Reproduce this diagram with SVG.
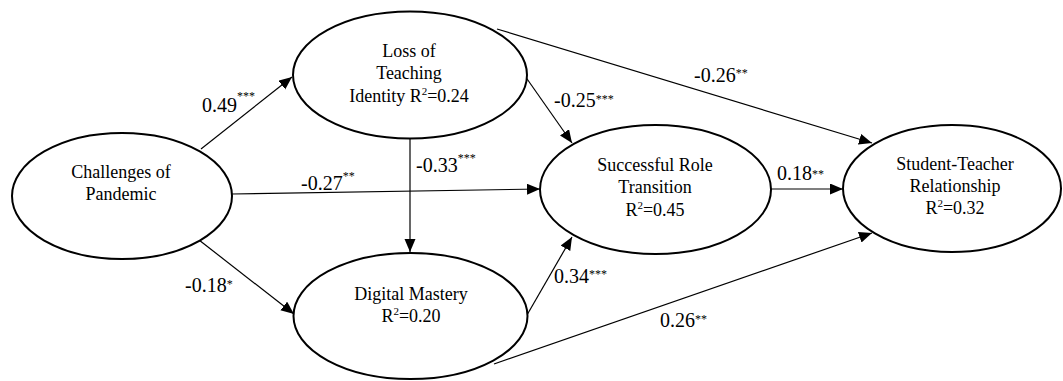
<svg xmlns="http://www.w3.org/2000/svg" width="1063" height="381" viewBox="0 0 1063 381" font-family="'Liberation Serif', 'DejaVu Serif', serif">
<defs>
<style>
.node ellipse{fill:#fff;stroke:#000;stroke-width:2}
.node text{font-family:'Liberation Serif','DejaVu Serif',serif;font-size:18px;fill:#000;text-anchor:middle}
.sup{font-size:11px}
.edge{stroke:#000;stroke-width:1.2;fill:none;marker-end:url(#arr)}
.lbl{font-family:'Liberation Serif','DejaVu Serif',serif;font-size:20px;fill:#000}
.st{font-size:12px}
</style>
<marker id="arr" markerUnits="userSpaceOnUse" markerWidth="14" markerHeight="12" refX="13" refY="5.5" orient="auto">
<path d="M0,0 L13,5.5 L0,11 z" fill="#000"/>
</marker>
</defs>
<rect width="1063" height="381" fill="#fff"/>
<g id="connectors">
<line class="edge" x1="201" y1="149" x2="292" y2="77"/>
<line class="edge" x1="232" y1="194" x2="540" y2="189"/>
<line class="edge" x1="199" y1="240" x2="294" y2="314"/>
<line class="edge" x1="410" y1="138" x2="410" y2="252"/>
<line class="edge" x1="525" y1="76" x2="572" y2="143"/>
<line class="edge" x1="497" y1="29" x2="872" y2="143"/>
<line class="edge" x1="771" y1="189" x2="843" y2="189"/>
<line class="edge" x1="527" y1="315" x2="572" y2="237"/>
<line class="edge" x1="494" y1="364" x2="872" y2="233"/>
<text class="lbl" x="202" y="112">0.49<tspan class="st" dy="-12">***</tspan></text>
<text class="lbl" x="301" y="190">-0.27<tspan class="st" dy="-10">**</tspan></text>
<text class="lbl" x="416" y="172">-0.33<tspan class="st" dy="-10">***</tspan></text>
<text class="lbl" x="185" y="292">-0.18<tspan class="st" dy="-4">*</tspan></text>
<text class="lbl" x="554" y="107">-0.25<tspan class="st" dy="-4">***</tspan></text>
<text class="lbl" x="694" y="82">-0.26<tspan class="st" dy="-5">**</tspan></text>
<text class="lbl" x="777" y="180">0.18<tspan class="st" dy="-2">**</tspan></text>
<text class="lbl" x="554" y="283">0.34<tspan class="st" dy="-5">***</tspan></text>
<text class="lbl" x="660" y="327">0.26<tspan class="st" dy="-4">**</tspan></text>
</g>
<g id="challenges" class="node">
<ellipse cx="122" cy="196" rx="110" ry="63"/>
<text x="121" y="178">Challenges of</text>
<text x="121" y="200">Pandemic</text>
</g>
<g id="loss" class="node">
<ellipse cx="410" cy="75" rx="117" ry="63.5"/>
<text x="409" y="57">Loss of</text>
<text x="409" y="79">Teaching</text>
<text x="409" y="102">Identity R<tspan class="sup" dy="-7">2</tspan><tspan dy="7">=0.24</tspan></text>
</g>
<g id="digital" class="node">
<ellipse cx="410.5" cy="316" rx="117" ry="63"/>
<text x="411" y="300">Digital Mastery</text>
<text x="411" y="322">R<tspan class="sup" dy="-7">2</tspan><tspan dy="7">=0.20</tspan></text>
</g>
<g id="successful" class="node">
<ellipse cx="655.5" cy="189.5" rx="115.5" ry="64.5"/>
<text x="655" y="171">Successful Role</text>
<text x="655" y="193">Transition</text>
<text x="655" y="216">R<tspan class="sup" dy="-7">2</tspan><tspan dy="7">=0.45</tspan></text>
</g>
<g id="student" class="node">
<ellipse cx="952" cy="188.5" rx="109" ry="63.5"/>
<text x="955" y="170">Student-Teacher</text>
<text x="955" y="192">Relationship</text>
<text x="955" y="214">R<tspan class="sup" dy="-7">2</tspan><tspan dy="7">=0.32</tspan></text>
</g>
</svg>
